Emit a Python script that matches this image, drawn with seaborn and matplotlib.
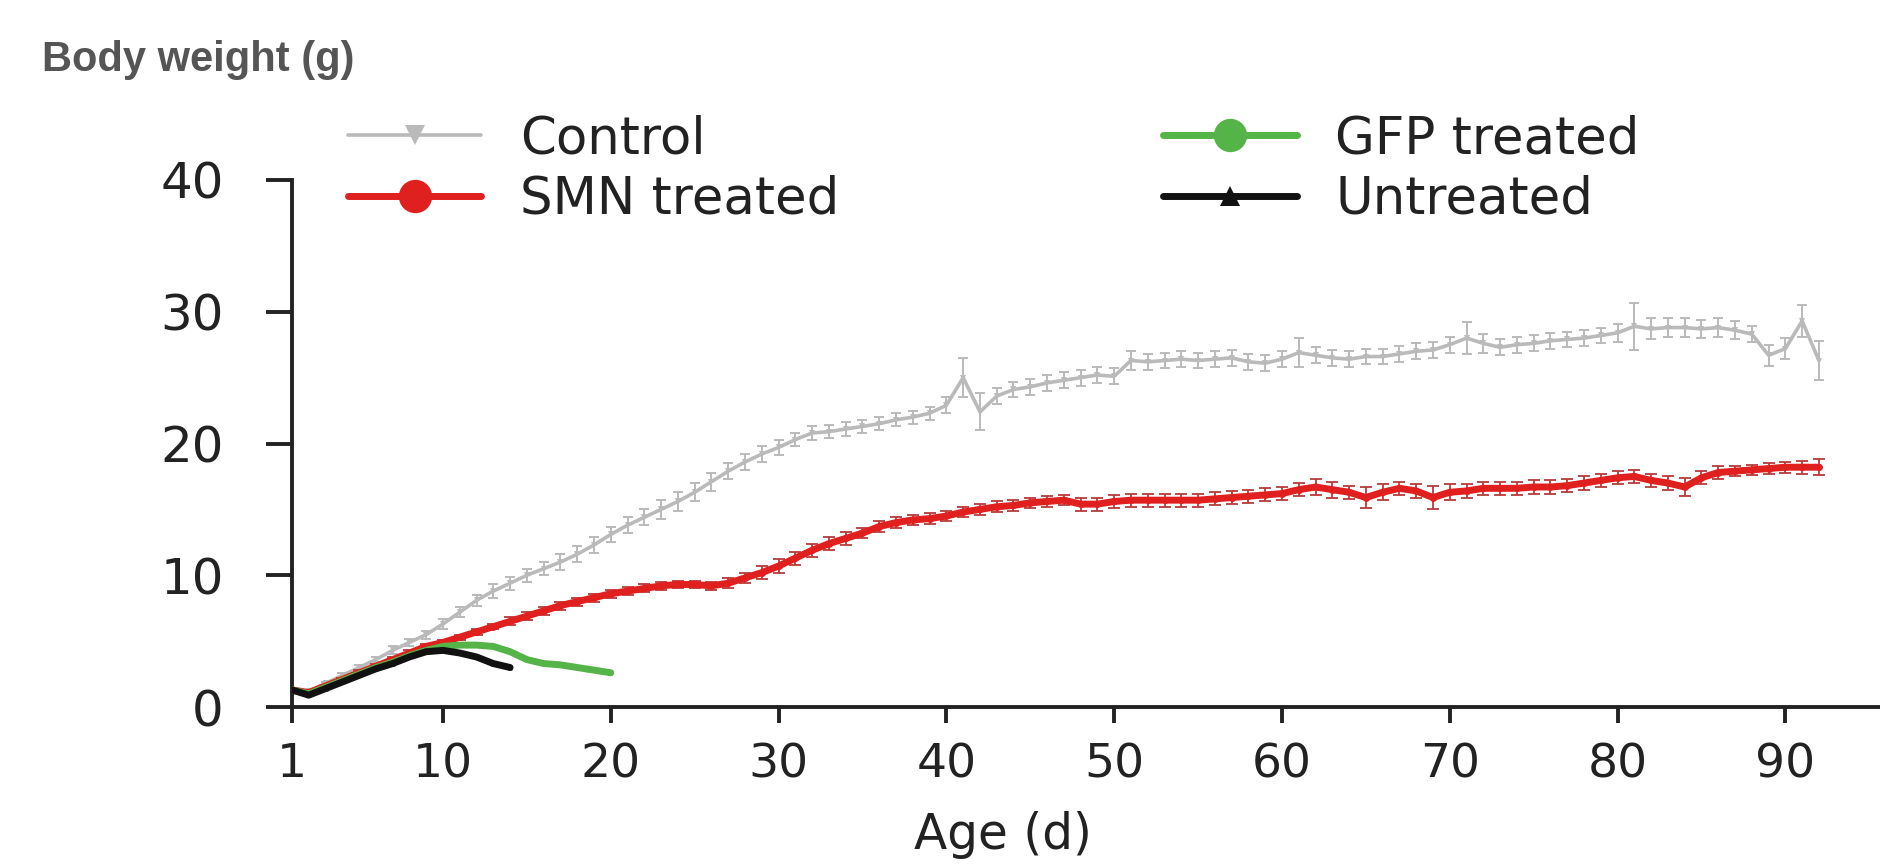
import matplotlib
matplotlib.use("Agg")
import matplotlib.pyplot as plt
import seaborn as sns
import pandas as pd

# body weight (g) by age (d), mean and SEM
control_days = list(range(1, 93))
control_mean = [
    1.3, 1.2, 1.8, 2.4, 3.0, 3.6, 4.3, 4.9, 5.5, 6.3,
    7.2, 8.1, 8.8, 9.4, 10.0, 10.5, 11.0, 11.6, 12.3, 13.1,
    13.8, 14.4, 15.0, 15.6, 16.3, 17.1, 17.9, 18.6, 19.2, 19.7,
    20.3, 20.8, 20.9, 21.1, 21.3, 21.5, 21.8, 22.0, 22.3, 22.9,
    25.0, 22.4, 23.6, 24.1, 24.3, 24.6, 24.8, 25.0, 25.2, 25.1,
    26.3, 26.2, 26.3, 26.4, 26.3, 26.4, 26.5, 26.2, 26.1, 26.4,
    26.9, 26.7, 26.5, 26.4, 26.6, 26.6, 26.8, 27.0, 27.1, 27.5,
    28.0, 27.6, 27.3, 27.5, 27.6, 27.8, 27.9, 28.0, 28.2, 28.4,
    28.9, 28.7, 28.8, 28.8, 28.7, 28.8, 28.6, 28.3, 26.7, 27.2,
    29.3, 26.3,
]
control_sem = [
    0.1, 0.1, 0.1, 0.2, 0.2, 0.2, 0.3, 0.3, 0.3, 0.4,
    0.4, 0.4, 0.5, 0.5, 0.5, 0.5, 0.6, 0.6, 0.6, 0.6,
    0.6, 0.6, 0.7, 0.7, 0.7, 0.7, 0.6, 0.6, 0.6, 0.6,
    0.5, 0.5, 0.5, 0.5, 0.5, 0.5, 0.5, 0.5, 0.5, 0.6,
    1.5, 1.4, 0.6, 0.6, 0.6, 0.6, 0.6, 0.6, 0.6, 0.6,
    0.7, 0.6, 0.6, 0.6, 0.6, 0.6, 0.6, 0.6, 0.6, 0.6,
    1.1, 0.6, 0.6, 0.6, 0.6, 0.6, 0.6, 0.6, 0.6, 0.6,
    1.2, 0.7, 0.6, 0.6, 0.6, 0.6, 0.6, 0.6, 0.6, 0.7,
    1.8, 0.8, 0.7, 0.7, 0.7, 0.7, 0.7, 0.6, 0.8, 0.8,
    1.2, 1.5,
]

smn_days = list(range(1, 93))
smn_mean = [
    1.3, 1.1, 1.6, 2.1, 2.6, 3.1, 3.6, 4.1, 4.6, 4.9,
    5.3, 5.7, 6.1, 6.5, 6.9, 7.3, 7.7, 8.0, 8.3, 8.6,
    8.8, 9.0, 9.2, 9.3, 9.3, 9.2, 9.4, 9.8, 10.2, 10.7,
    11.3, 11.9, 12.4, 12.8, 13.2, 13.7, 14.0, 14.2, 14.3, 14.5,
    14.8, 15.0, 15.2, 15.3, 15.5, 15.6, 15.7, 15.4, 15.4, 15.6,
    15.7, 15.7, 15.7, 15.7, 15.7, 15.8, 15.9, 16.0, 16.1, 16.2,
    16.5, 16.7, 16.5, 16.3, 15.9, 16.3, 16.6, 16.4, 15.9, 16.3,
    16.4, 16.6, 16.6, 16.6, 16.7, 16.7, 16.8, 17.0, 17.2, 17.4,
    17.5, 17.2, 17.0, 16.7, 17.4, 17.8, 17.9, 18.0, 18.1, 18.2,
    18.2, 18.2,
]
smn_sem = [
    0.1, 0.1, 0.1, 0.1, 0.2, 0.2, 0.2, 0.2, 0.2, 0.2,
    0.2, 0.2, 0.2, 0.3, 0.3, 0.3, 0.3, 0.3, 0.3, 0.3,
    0.3, 0.3, 0.3, 0.3, 0.3, 0.3, 0.4, 0.4, 0.5, 0.5,
    0.5, 0.5, 0.5, 0.5, 0.4, 0.4, 0.4, 0.4, 0.4, 0.4,
    0.4, 0.4, 0.4, 0.4, 0.4, 0.4, 0.4, 0.5, 0.5, 0.5,
    0.5, 0.5, 0.5, 0.5, 0.5, 0.5, 0.5, 0.5, 0.5, 0.5,
    0.5, 0.6, 0.6, 0.5, 0.8, 0.6, 0.5, 0.5, 0.9, 0.6,
    0.5, 0.5, 0.5, 0.5, 0.5, 0.5, 0.5, 0.5, 0.5, 0.5,
    0.5, 0.5, 0.5, 0.7, 0.5, 0.5, 0.4, 0.4, 0.4, 0.4,
    0.5, 0.6,
]

gfp_days = list(range(1, 21))
gfp_mean = [1.3, 1.0, 1.5, 2.0, 2.5, 3.0, 3.4, 3.9, 4.3, 4.6,
            4.7, 4.7, 4.6, 4.2, 3.6, 3.3, 3.2, 3.0, 2.8, 2.6]

untreated_days = list(range(1, 15))
untreated_mean = [1.3, 0.9, 1.4, 1.9, 2.4, 2.9, 3.3, 3.8, 4.2, 4.3,
                  4.1, 3.8, 3.3, 3.0]

x_ticks = [1, 10, 20, 30, 40, 50, 60, 70, 80, 90]
y_ticks = [0, 10, 20, 30, 40]

GRAY = "#bababa"
RED = "#e0201e"
GREEN = "#55b447"
BLACK = "#111111"

sns.set_style("ticks")
plt.rcParams["font.family"] = ["DejaVu Sans"]

fig = plt.figure(figsize=(18.8, 8.67), dpi=100)
ax = fig.add_axes([0.1553, 0.1845, 0.8447, 0.6079])

df_control = pd.DataFrame({"age": control_days, "weight": control_mean})
df_smn = pd.DataFrame({"age": smn_days, "weight": smn_mean})
df_gfp = pd.DataFrame({"age": gfp_days, "weight": gfp_mean})
df_untr = pd.DataFrame({"age": untreated_days, "weight": untreated_mean})

# error bars first so the lines sit on top
ax.errorbar(control_days, control_mean, yerr=control_sem, fmt="none",
            ecolor=GRAY, elinewidth=1.4, capsize=3.5, capthick=1.4, zorder=2)
sns.lineplot(data=df_control, x="age", y="weight", ax=ax, color=GRAY,
             linewidth=2.6, marker="v", markersize=5, markeredgewidth=0,
             label="Control", zorder=3)

ax.errorbar(smn_days, smn_mean, yerr=smn_sem, fmt="none",
            ecolor="#b83a3a", elinewidth=1.3, capsize=4, capthick=1.3, zorder=4)
sns.lineplot(data=df_smn, x="age", y="weight", ax=ax, color=RED,
             linewidth=5, marker="o", markersize=5, markeredgewidth=0,
             label="SMN treated", zorder=5)

sns.lineplot(data=df_gfp, x="age", y="weight", ax=ax, color=GREEN,
             linewidth=5, marker="o", markersize=3, markeredgewidth=0,
             label="GFP treated", zorder=6)
sns.lineplot(data=df_untr, x="age", y="weight", ax=ax, color=BLACK,
             linewidth=5, marker="^", markersize=3, markeredgewidth=0,
             label="Untreated", zorder=7)

ax.set_xlim(1, 95.64)
ax.set_ylim(0, 40)
ax.set_xticks(x_ticks)
ax.set_yticks(y_ticks)
ax.tick_params(axis="x", labelsize=34, length=11.5, width=2.8, pad=14,
               colors="#222222")
ax.tick_params(axis="y", labelsize=36, length=19, width=2.8, pad=30,
               colors="#222222")
for side in ["top", "right"]:
    ax.spines[side].set_visible(False)
for side in ["left", "bottom"]:
    ax.spines[side].set_linewidth(2.8)
    ax.spines[side].set_color("#222222")

ax.set_ylabel("")
ax.set_xlabel("Age (d)", fontsize=35, color="#222222", va="top")
ax.xaxis.set_label_coords(0.448, -0.197)

handles, labels = ax.get_legend_handles_labels()
leg = ax.legend(handles, labels, ncol=2, loc="upper left",
                bbox_to_anchor=(0.185, 0.868), bbox_transform=fig.transFigure,
                frameon=False, fontsize=37, handlelength=2.6,
                handletextpad=0.75, columnspacing=6.3, labelspacing=0.2,
                borderpad=0, borderaxespad=0)
for h, ms in zip(leg.legend_handles, [14, 24, 24, 14]):
    h.set_markersize(ms)
for t in leg.get_texts():
    t.set_color("#222222")

fig.text(42 / 1880, 1 - 60 / 867, "Body weight (g)", fontsize=30,
         fontweight="bold", color="#555555", ha="left", va="center",
         family=["Liberation Sans", "DejaVu Sans"])

fig.savefig("out.png", dpi=100)
